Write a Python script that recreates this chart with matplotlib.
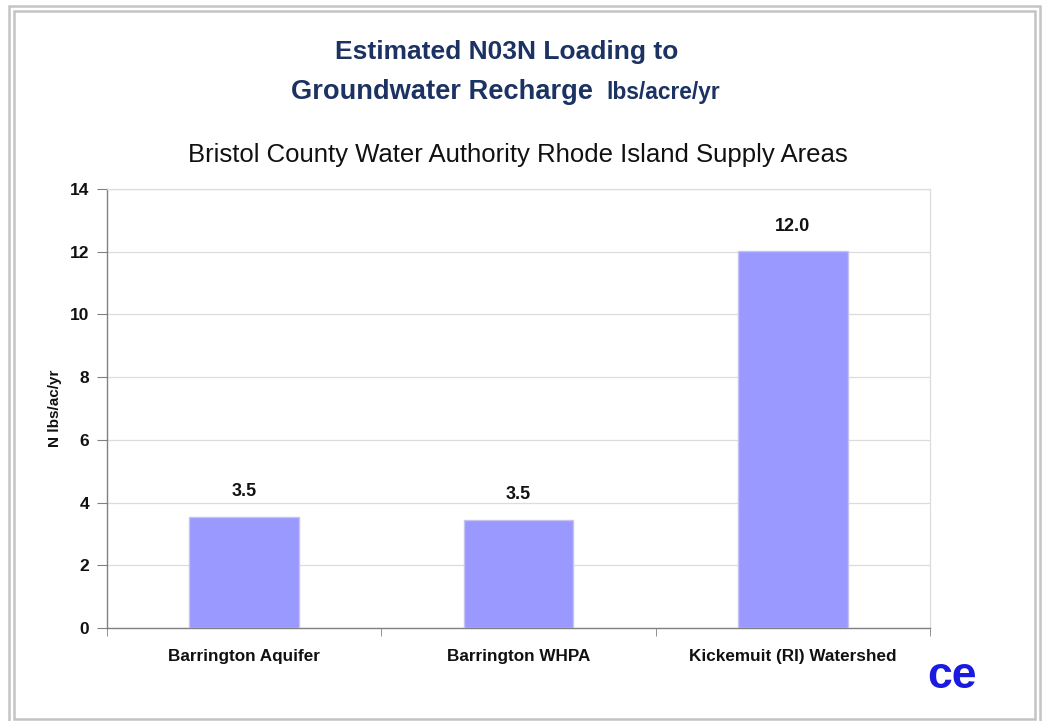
import matplotlib.pyplot as plt
from matplotlib.patches import Rectangle

plt.rcParams['font.family'] = ['Liberation Sans', 'DejaVu Sans']

# data
categories = ["Barrington Aquifer", "Barrington WHPA", "Kickemuit (RI) Watershed"]
values = [3.55, 3.45, 12.02]
value_labels = ["3.5", "3.5", "12.0"]
yticks = [0, 2, 4, 6, 8, 10, 12, 14]

title_color = "#1b3262"
bar_color = "#9999ff"

fig = plt.figure(figsize=(10.42, 7.21), dpi=100)
W, H = 1042, 721

# double grey frame around the slide
for (x0, y0, x1, y1) in [(9, 6, 1040, 722), (14, 11, 1035, 719)]:
    fig.patches.append(Rectangle((x0 / W, 1 - y1 / H), (x1 - x0) / W, (y1 - y0) / H,
                                 transform=fig.transFigure, fill=False,
                                 edgecolor="#c4c4c4", lw=1.8, zorder=0))

ax = fig.add_axes([107 / W, 1 - 628 / H, (930 - 107) / W, (628 - 189) / H])

x = range(len(categories))
bars = ax.bar(x, values, width=0.4, color=bar_color, edgecolor="#c4c4ee", lw=1.0, zorder=3)
for b, lab in zip(bars, value_labels):
    ax.text(b.get_x() + b.get_width() / 2, b.get_height() + 0.8, lab,
            ha="center", va="center", fontsize=13, fontweight="bold", color="#111111")

ax.set_xlim(-0.5, len(categories) - 0.5)
ax.set_ylim(0, 14)
ax.set_yticks(yticks)
ax.set_yticklabels([str(t) for t in yticks], fontsize=12.5, fontweight="bold", color="#111111")
ax.set_xticks(list(x))
ax.set_xticklabels(categories, fontsize=12.3, fontweight="bold", color="#111111")
ax.tick_params(axis="x", which="major", length=0, pad=15)
ax.set_xticks([-0.5, 0.5, 1.5, 2.5], minor=True)
ax.tick_params(axis="x", which="minor", length=6, direction="out", color="#808080")
ax.tick_params(axis="y", length=7, direction="out", color="#808080", pad=6)

ax.grid(axis="y", color="#dcdcdc", lw=0.9, zorder=0)
ax.set_axisbelow(True)
for s in ["left", "bottom"]:
    ax.spines[s].set_color("#808080")
    ax.spines[s].set_linewidth(1.0)
for s in ["top", "right"]:
    ax.spines[s].set_color("#dcdcdc")
    ax.spines[s].set_linewidth(0.9)

ax.set_ylabel("N lbs/ac/yr", fontsize=11, fontweight="bold", color="#111111")
ax.yaxis.set_label_coords((62 - 107) / (930 - 107), 0.5)

# titles
fig.text(507 / W, 1 - 52 / H, "Estimated N03N Loading to", ha="center", va="center",
         fontsize=19, fontweight="bold", color=title_color)
fig.text(593 / W, 1 - 99 / H, "Groundwater Recharge", ha="right", va="baseline",
         fontsize=19.6, fontweight="bold", color=title_color)
fig.text(606 / W, 1 - 99 / H, "lbs/acre/yr", ha="left", va="baseline",
         fontsize=16.4, fontweight="bold", color=title_color)
fig.text(518 / W, 1 - 155 / H, "Bristol County Water Authority Rhode Island Supply Areas",
         ha="center", va="center", fontsize=18.5, color="#111111")

# company logo
fig.text(952 / W, 1 - 676 / H, "ce", ha="center", va="center", fontsize=32,
         fontweight="bold", color="#1a1ae0")

fig.savefig("out.png", dpi=100)
